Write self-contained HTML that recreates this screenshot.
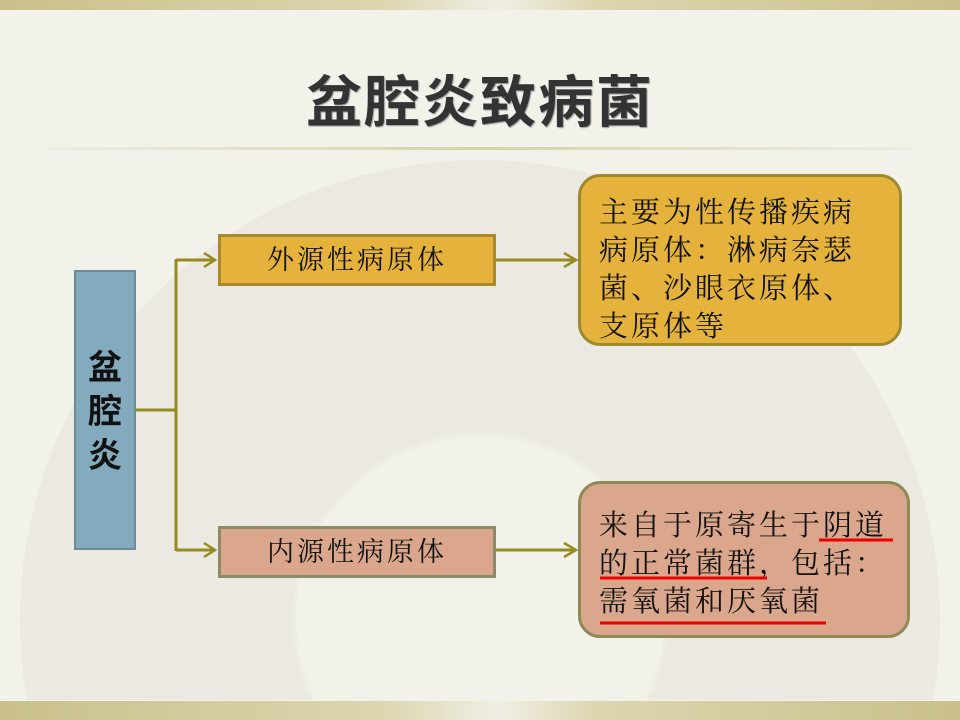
<!DOCTYPE html>
<html style="margin:0;width:960px;height:720px;overflow:hidden"><head><meta charset="utf-8"><style>
body{margin:0;width:960px;height:720px;overflow:hidden;background:#f2f1ea;position:relative;font-family:"Liberation Serif","Noto Serif CJK SC",serif;}
.bar{position:absolute;left:0;width:960px;background:linear-gradient(90deg,#c9c08a 0%,#dcd6b0 40%,#f0eee4 52%,#dcd6b0 62%,#c9c08a 100%);}
.abs{position:absolute;box-sizing:border-box;}
.t{font-family:"Liberation Sans","Noto Sans CJK SC",sans-serif;font-weight:bold;font-size:56px;color:#333;text-align:center;left:0;width:960px;top:58px;letter-spacing:2px;text-shadow:1px 1px 1px #999;}
.clip{position:absolute;left:0;top:0;width:960px;height:700px;overflow:hidden;}
.fan{position:absolute;left:20px;top:160px;width:920px;height:920px;border-radius:50%;background:radial-gradient(circle,#f2f1ea 0 28%,#e8e6dd 29% 100%);opacity:.7;}
</style></head><body>
<div class="clip"><div class="fan"></div></div>
<div class="bar" style="top:0;height:10px"></div>
<div class="bar" style="top:701px;height:19px"></div>
<div class="abs t">盆腔炎致病菌</div>
<div class="abs" style="left:48px;top:147px;width:864px;height:3px;background:linear-gradient(90deg,#eeece0,#d8d2a8 50%,#eeece0)"></div>

<div class="abs" style="left:74px;top:270px;width:62px;height:280px;background:#84aabd;border:2px solid #6f8a96;font-family:'Liberation Sans','Noto Sans CJK SC',sans-serif;font-weight:bold;font-size:34px;color:#111;text-align:center;padding-top:74px;line-height:44px">盆<br>腔<br>炎</div>

<div class="abs" style="left:218px;top:234px;width:278px;height:52px;background:#e5b23c;border:3px solid #a88a2c;font-size:27px;letter-spacing:3px;text-align:center;line-height:46px;color:#111">外源性病原体</div>
<div class="abs" style="left:218px;top:526px;width:278px;height:52px;background:#dba78c;border:3px solid #8d8a66;font-size:27px;letter-spacing:3px;text-align:center;line-height:46px;color:#111">内源性病原体</div>

<div class="abs" style="left:578px;top:174px;width:324px;height:172px;background:#e5b23c;border:3px solid #9c8a30;border-radius:22px;font-size:29px;letter-spacing:3px;line-height:38px;padding:17px 0 0 18px;color:#111;white-space:nowrap">主要为性传播疾病<br>病原体：淋病奈瑟<br>菌、沙眼衣原体、<br>支原体等</div>
<div class="abs" style="left:578px;top:481px;width:332px;height:157px;background:#dba78c;border:3px solid #8d8a55;border-radius:22px;font-size:29px;letter-spacing:3px;line-height:38px;padding:23px 0 0 18px;color:#111;white-space:nowrap">来自于原寄生于阴道<br>的正常菌群，包括：<br>需氧菌和厌氧菌</div>

<svg class="abs" style="left:0;top:0" width="960" height="720">
<g stroke="#958b1f" stroke-width="3" fill="none">
<path d="M136 410H176M176 259V551M176 260H214M176 550H214M496 260H574M496 550H574"/>
<path d="M204 253L215 260L204 267M204 543L215 550L204 557M564 253L576 260L564 267M564 543L576 550L564 557" stroke-width="2.5"/>
</g>
<g stroke="#e00" stroke-width="3">
<path d="M819 540H893M600 578H767M600 623H826"/>
</g>
</svg>
</body></html>
